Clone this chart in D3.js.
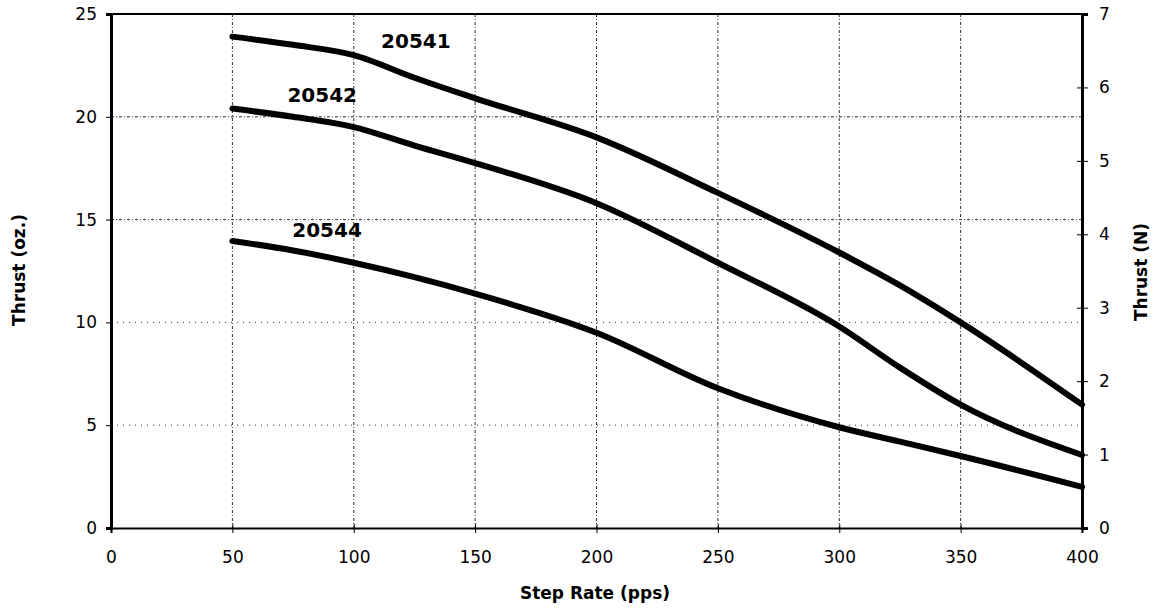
<!DOCTYPE html>
<html><head><meta charset="utf-8">
<script src="https://cdn.jsdelivr.net/npm/d3@7"></script>
<style>body{margin:0;background:#fff}svg{display:block}</style>
</head><body>
<svg id="c" width="1157" height="608"></svg>
<script>
const stepRate = [50, 75, 100, 125, 150, 200, 250, 300, 325, 350, 400];
const thrust20541 = [23.9, 23.5, 23.0, 21.9, 20.9, 19.0, 16.3, 13.4, 11.8, 10.0, 6.0];
const thrust20542 = [20.4, 20.0, 19.5, 18.6, 17.75, 15.8, 12.9, 9.8, 7.8, 6.0, 3.55];
const thrust20544 = [13.96, 13.5, 12.9, 12.2, 11.4, 9.5, 6.8, 4.9, 4.2, 3.5, 2.0];
const seriesNames = ["20541", "20542", "20544"];
const labelAt = [[125.6, 23.35], [87, 20.7], [89, 14.15]];
const xTicks = [0, 50, 100, 150, 200, 250, 300, 350, 400];
const yTicks = [0, 5, 10, 15, 20, 25];
const yRightTicks = [0, 1, 2, 3, 4, 5, 6, 7];

const svg = d3.select("#c");
const L = 111, R = 1082, T = 14, B = 528;
const x = d3.scaleLinear().domain([0, 400]).range([L, R]);
const y = d3.scaleLinear().domain([0, 25]).range([B, T]);
const yR = d3.scaleLinear().domain([0, 7]).range([B, T]);

// grid
const g = svg.append("g");
xTicks.filter(d => d > 0 && d < 400).forEach(d => {
  g.append("line").attr("x1", x(d)).attr("x2", x(d)).attr("y1", T).attr("y2", B)
    .attr("stroke", "#333").attr("stroke-width", 1).attr("stroke-dasharray", "3,2,1,2");
});
yTicks.filter(d => d > 0 && d < 25).forEach(d => {
  g.append("line").attr("x1", L).attr("x2", R).attr("y1", y(d)).attr("y2", y(d))
    .attr("stroke", "#333").attr("stroke-width", 1)
    .attr("stroke-dasharray", d >= 15 ? "3,2,1,2" : "1,5");
});

// frame
svg.append("line").attr("x1", L).attr("x2", R).attr("y1", T).attr("y2", T).attr("stroke", "#000").attr("stroke-width", 2);

const font = "DejaVu Sans, sans-serif";
// left axis
const ax = svg.append("g").attr("transform", `translate(${L},0)`)
  .call(d3.axisLeft(y).tickValues(yTicks).tickFormat(d3.format("d")).tickSize(5).tickPadding(9));
ax.select(".domain").attr("stroke-width", 3);
ax.selectAll("text").attr("font-family", font).attr("font-size", 17).attr("fill", "#000");
// right axis
const axr = svg.append("g").attr("transform", `translate(${R},0)`)
  .call(d3.axisRight(yR).tickValues(yRightTicks).tickFormat(d3.format("d")).tickSize(6).tickPadding(11));
axr.select(".domain").attr("stroke-width", 3);
axr.selectAll(".tick line").attr("x1", -5);
axr.selectAll("text").attr("font-family", font).attr("font-size", 17).attr("fill", "#000");
// bottom axis
const axb = svg.append("g").attr("transform", `translate(0,${B})`)
  .call(d3.axisBottom(x).tickValues(xTicks).tickFormat(d3.format("d")).tickSize(5).tickPadding(18));
axb.select(".domain").attr("stroke-width", 2);
axb.selectAll(".tick line").attr("y1", -4);
axb.selectAll("text").attr("font-family", font).attr("font-size", 17).attr("fill", "#000");

// lines
const line = d3.line().x((d, i) => x(stepRate[i])).y(d => y(d)).curve(d3.curveMonotoneX);
[thrust20541, thrust20542, thrust20544].forEach((s, k) => {
  svg.append("path").attr("d", line(s)).attr("fill", "none").attr("stroke", "#000")
    .attr("stroke-width", 6).attr("stroke-linecap", "round").attr("stroke-linejoin", "round");
  svg.append("text").attr("x", x(labelAt[k][0])).attr("y", y(labelAt[k][1]))
    .attr("font-family", font).attr("font-weight", "bold")
    .attr("font-size", 20).attr("text-anchor", "middle").text(seriesNames[k]);
});

// titles
svg.append("text").attr("x", 595).attr("y", 599).attr("text-anchor", "middle")
  .attr("font-family", font).attr("font-weight", "bold").attr("font-size", 17).text("Step Rate (pps)");
svg.append("text").attr("transform", "translate(25,270) rotate(-90)").attr("text-anchor", "middle")
  .attr("font-family", font).attr("font-weight", "bold").attr("font-size", 17).text("Thrust (oz.)");
svg.append("text").attr("transform", "translate(1147,272) rotate(-90)").attr("text-anchor", "middle")
  .attr("font-family", font).attr("font-weight", "bold").attr("font-size", 17).text("Thrust (N)");
</script>
</body></html>
